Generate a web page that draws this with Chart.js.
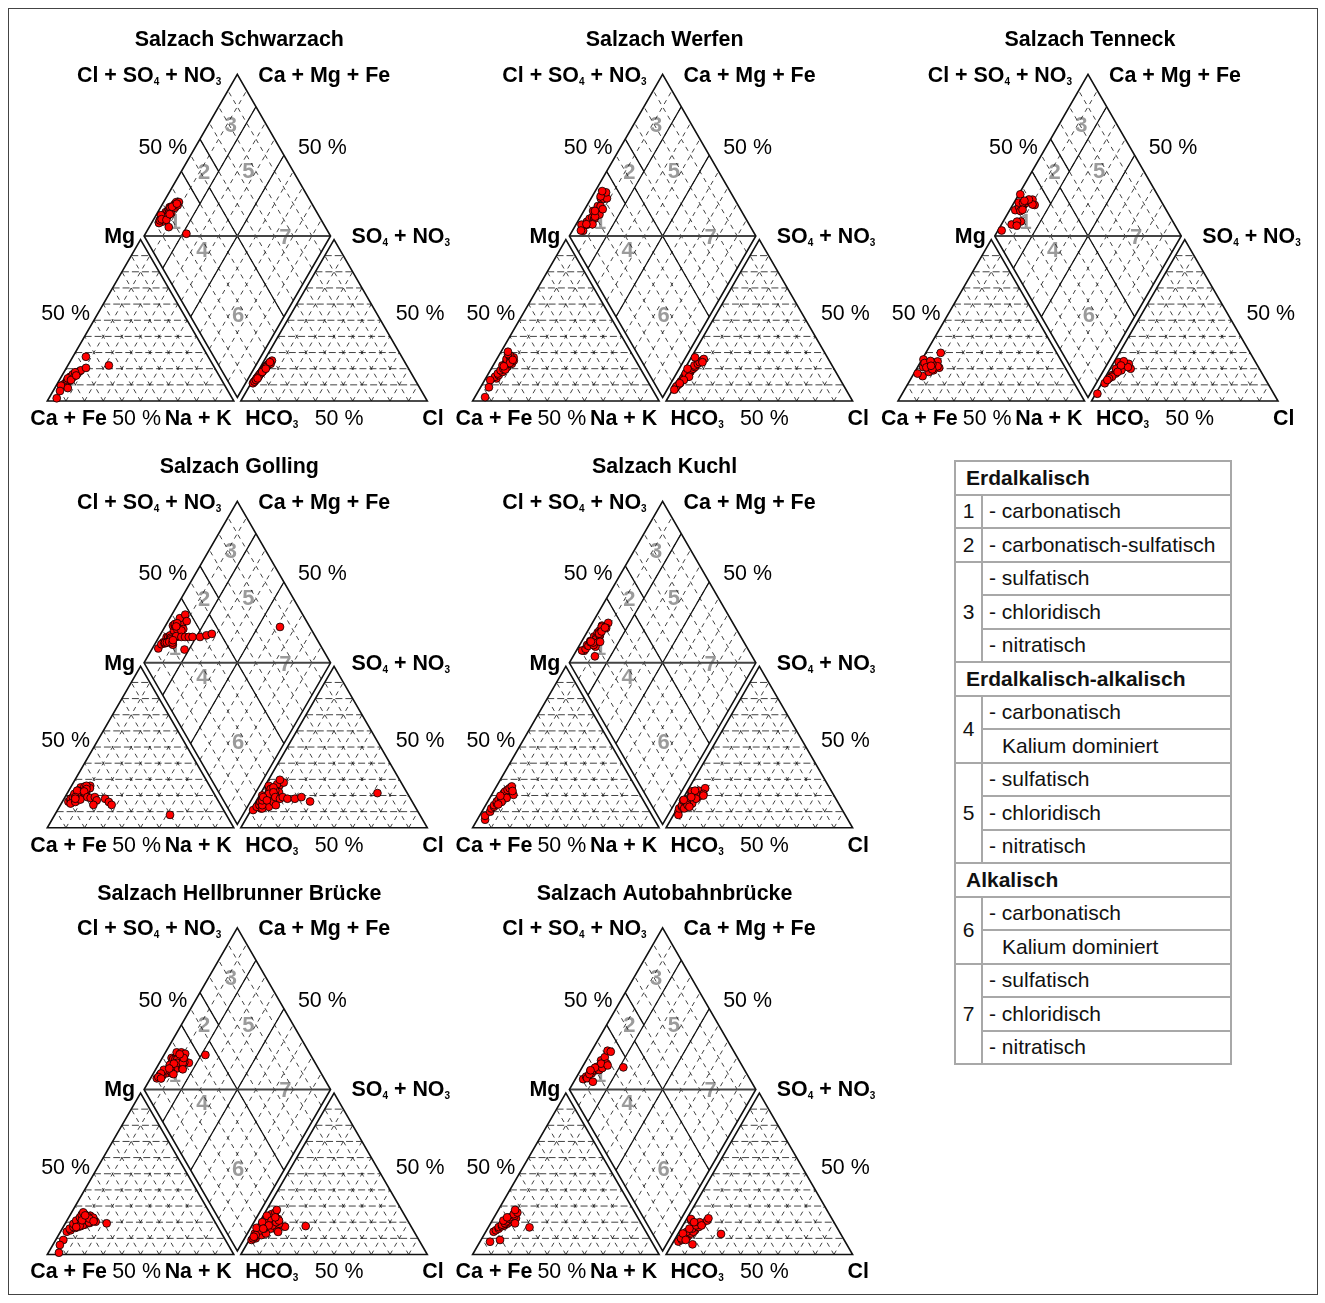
<!DOCTYPE html>
<html lang="de">
<head>
<meta charset="utf-8">
<title>Piper-Diagramme Salzach</title>
<script src="https://cdn.jsdelivr.net/npm/chart.js@4.4.1/dist/chart.umd.min.js"></script>
<style>
  html, body { margin: 0; padding: 0; background: #fff; }
  body { width: 1325px; height: 1303px; position: relative; overflow: hidden;
         font-family: "Liberation Sans", Arial, Helvetica, sans-serif; }
  #frame { position: absolute; left: 8px; top: 8px; width: 1310px; height: 1287px;
           border: 1px solid #444; box-sizing: border-box; }
  canvas.piper { position: absolute; }
  #legend { position: absolute; left: 954px; top: 460px; width: 276px;
            border-collapse: collapse; table-layout: fixed;
            font-family: "Liberation Sans", Arial, sans-serif; font-size: 21px; color: #111; }
  #legend td { border: 2px solid #a8a8a8; height: 33.5px; padding: 0; white-space: nowrap;
               line-height: 20px; box-sizing: border-box; }
  #legend td.head { font-weight: bold; padding-left: 10px; }
  #legend td.num { width: 27px; text-align: center; }
  #legend td.txt { padding-left: 6px; }
  #legend td.txt.cont { padding-left: 19px; }
</style>
</head>
<body>
<div id="frame"></div>
<table id="legend"></table>
<script>
// Sample compositions in equivalent-% : [Mg, Na+K, SO4+NO3, Cl]
// (Ca+Fe = 100 - Mg - Na+K ; HCO3 = 100 - SO4+NO3 - Cl)
const schwarzach = [
  [10,3.5,12,1.2],[11,4,14,1.5],[12,4.5,16,1.8],[12.5,5.5,13,1.4],[13,4.2,17,2],[13.5,5,18,2.2],
  [14,6,15,1.6],[14.5,5.2,19,2.5],[15,4.8,20,2.6],[15,6.5,17,2.1],[15.5,5.6,21,2.8],[16,6.2,18,2.4],
  [16,7,22,3],[16.5,5.4,20,2.9],[17,6.6,23,3.4],[17,7.5,19,2.7],[17.5,6.8,24,3.8],[18,7.8,22,3.3],
  [18.5,8.2,25,4.2],[19,8.5,23,4.5],[14,4,11,1],[13,6.2,16,1.9],[17.8,6,21,3.1],[15.8,7.6,24,3.6],
  [9.5,2.6,14,1.5],[6.2,3.7,12,1.3],[1.7,4.2,13,1.6],[8,7,15,2],
  [27.4,7,18,2.5],[20.5,10.5,14,2],[22,22,20,3.4]
];
const werfen = [
  [14,5.8,8,1],[15,4.5,10,1.5],[16,6,11,2],[17,5,12,1.8],[18,7,13,2.5],[19,5.5,14,2.2],[20,6.5,15,3],
  [21,8,16,2.8],[22,5,17,3.5],[22.5,6.8,18,4],[23,9.5,19,3.8],[24,6,20,4.5],[24.5,7.5,21,5],[25,9.6,22,4.2],
  [26,5.2,23,5.5],[26.5,7,24,6],[27,8.5,25,6.8],[28,6.2,26,7.2],[29,4.5,27,2],[30.5,3.7,24,7.5],
  [23.5,8.2,17,2],[19.5,7.8,15,4.8],[21.5,6,20,1.5],[25.5,8.8,13,3],
  [12.9,3,9,1],[8.5,4.5,7,0.9],[2.4,5.5,11,1.8]
];
const tenneck = [
  [25.7,0.8,24,2.6],[29.8,8,23,6.6],[20.6,11.8,20,11],[15.4,5.5,11,1.6],[22.6,5.9,19.5,5.5],[21,3,16,3],
  [23,4,18,4],[24,6.5,21,6],[22,8,22,7.5],[20,6,17,4.5],[19,9.5,15,3.5],[24.5,9,23,8.5],[21.5,10.5,21,9],
  [23.5,2.5,20,3.2],[18,7.5,14,2.4],[22.8,7,24.6,5],[20.8,4.8,19,6.5],[24.8,5,22,4.8],[19.6,8.6,13,2],
  [21.8,6.8,18,5],[17,2,4.5,0.9]
];
const golling = [
  [16.2,3.2,11,1.1],[17,4,12,4.7],[18,3.5,13,2],[18.5,5,14,3],[19,4.2,15,5],[19.5,6,16,2.5],[20,5,17,4],
  [20.5,7,18,6],[21,5.5,19,3.5],[21.5,6.5,20,7],[22,8,21,5],[22.5,6,22,4],[23,7.5,23,8],[23.5,9,24,6],
  [24,6.8,25,5.5],[24.5,8.5,26,7.5],[25,5.4,27,6],[25.5,7.2,28,9],[26,10,29.7,6.1],[24.5,10.6,22,9.5],
  [17.5,6.5,15,7],[18,8,13,8.5],[20,9.5,16,9.5],[19,7,20,1.5],[22,9.8,18,3],[15,5,12,5.5],[21,4,24,3],
  [23,5,26,2],[20,6,14,4.5],[26,8,24,4],
  [16,7,17,3],[17.5,9,21,4.5],[21,10,23,7],[23,4.5,20,8.5],[19,5.5,25,5],[24,9,19,2.5],[18,6,22,6.5],
  [22.5,8.5,17,5.5],
  [19,12,19,9],[18.5,14,18,12],[19,16,19,13],[17,18,18,16],[14.2,17.6,14,11.8],[18,22,18,20],
  [16,25,19,23],[14.2,27.4,16.3,29],
  [8,61.8,21.5,62.5]
];
const kuchl = [
  [5,4.2,10,1.6],[7.4,3,8,2.6],[10,4.4,12,1],[12,4,13,2],[13,5,14,1.5],[14,4.5,15,3],[15,5.5,16,2.5],
  [16.3,4.8,17,0.6],[17,6,18,4],[17.5,5.2,16,5.5],[18,6.5,19,3.5],[19,5.8,20,4.5],[19.5,7,15,6.5],
  [20,6.2,21,5],[20.5,8,22,2.5],[21,7.2,19,7.5],[21.5,6,23,6],[22,7.8,22.6,2.5],[22.5,6.2,20,8.5],
  [23,8.5,24.5,8.7],[23.5,7,18,7],[24,9,21,9.5],[24.5,7.6,23,4],[25.6,8.2,20,10],[20.4,11.7,12,3.7],
  [18.5,9,16,3],[16,7.5,14,4.5],[14.5,6.5,13,6],[22.8,10,19,4],[19.8,5,17.3,0.8]
];
const hellbrunnerBruecke = [
  [14.1,3.4,9,1.3],[15,5,10,3],[16,4,11,2],[16.5,7,12,5],[17,5.5,13,1],[17.5,9,14,6],[18,6,15,3],
  [18.5,11,16,8],[19,4.5,16.5,0.2],[19.3,7.8,17,4],[19.5,13,18,10],[20,6.5,19,2],[20.3,15.8,17.2,15.1],
  [20.5,9.5,20,7],[21,5,21,3.5],[21.4,12,22,9],[22,7,23,5],[22.5,10,24,6],[23,6,25,4],[23.5,8.5,26,5.5],
  [24,11,27.6,5.5],[24.5,6.2,22,3],[25,7.5,24,2],[26.1,6.2,20,1.5],[21.8,14,15,12],[18.2,10,13,7],
  [22.8,13.2,19,11],[17.8,8.5,21,6],[20.8,11,16,4.5],[23.8,9.5,18,8],
  [19.8,12.5,20,9],[21.2,8,18,6],[22.2,11.5,21,10],[17,7,16,4],[24.2,8.2,23,7],[20.6,14.5,14,13],
  [9,4.1,12,2],[5.9,3.8,10,1.5],[1.1,5.7,11,1.5],
  [19.3,22.2,17.6,26]
];
const autobahnBruecke = [
  [14.1,4.2,8,2.6],[15,5,9,4],[16,6,10,3],[17,5.5,11,6],[17.5,7,12,5],[18,8,13,7],[18.5,6.5,14,4],
  [19,9,15,8],[19.3,7.7,14.1,7.6],[20,10,16,6],[20.5,8,17,9],[21,11,18,7],[22,9,19,10],[22.5,12,20,8],
  [23,8.5,21,11.5],[24,10.5,22.4,11.5],[25,9.5,21,3],[26,11,22,2.3],[27.6,9,20,5],[19.3,13.1,18,10],
  [21,6,13,2.5],[23,7,16,4.5],[7.9,5.4,6.3,11],[9,10.2,9,6],
  [16.8,22.1,12.7,23.1]
];

const stationNames = ['Salzach Schwarzach', 'Salzach Werfen', 'Salzach Tenneck', 'Salzach Golling',
  'Salzach Kuchl', 'Salzach Hellbrunner Brücke', 'Salzach Autobahnbrücke'];
const stationSamples = [schwarzach, werfen, tenneck, golling, kuchl, hellbrunnerBruecke, autobahnBruecke];

// Axis / corner captions ("_n" marks a subscript digit)
const diamondCaptions = ['Cl + SO_4 + NO_3', 'Ca + Mg + Fe', 'Mg', 'SO_4 + NO_3'];
const baseCaptions = ['Ca + Fe', 'Na + K', 'HCO_3', 'Cl'];
const halfTick = '50 %';
const fieldNumbers = ['1', '2', '3', '4', '5', '6', '7'];

// Legend of the water-type fields
const legendGroups = [
  { head: 'Erdalkalisch', items: [
    ['1', ['- carbonatisch']],
    ['2', ['- carbonatisch-sulfatisch']],
    ['3', ['- sulfatisch', '- chloridisch', '- nitratisch']] ] },
  { head: 'Erdalkalisch-alkalisch', items: [
    ['4', ['- carbonatisch', 'Kalium dominiert']],
    ['5', ['- sulfatisch', '- chloridisch', '- nitratisch']] ] },
  { head: 'Alkalisch', items: [
    ['6', ['- carbonatisch', 'Kalium dominiert']],
    ['7', ['- sulfatisch', '- chloridisch', '- nitratisch']] ] }
];

// ---------------- geometry of the Piper plot (triangle side = 1) ----------------
const K = 186.5;                 // pixels per unit side
const G = 7 / K;                 // gap between the two triangles
const YD = 3.5 / K;              // lift of the diamond's lower vertex
const H = Math.sqrt(3) / 2;
const geom = {
  cat: (mg, nak) => [nak + mg / 2, mg * H],
  an: (so4, cl) => [1 + G + cl + so4 / 2, so4 * H],
  dia: (c, a) => [1 + G / 2 + (a - c) / 2, YD + (a + c) * H]
};
// field number positions in the diamond as [cations Ca+Mg, anions Cl+SO4]
const fieldPos = [[0.88, 0.21], [0.877, 0.52], [0.88, 0.81], [0.645, 0.27], [0.64, 0.76], [0.25, 0.26], [0.24, 0.755]];

const FONT = '"Liberation Sans", Arial, Helvetica, sans-serif';
const FS = 21.4;

function richText(ctx, str, x, y, align, bold) {
  const parts = str.split(/_(\d)/);
  const big = (bold ? 'bold ' : '') + FS + 'px ' + FONT;
  const small = (bold ? 'bold ' : '') + '10px ' + FONT;
  let w = 0;
  parts.forEach((t, i) => { ctx.font = i % 2 ? small : big; w += ctx.measureText(t).width; });
  let sx = align === 'right' ? x - w : align === 'center' ? x - w / 2 : x;
  ctx.textAlign = 'left';
  ctx.textBaseline = 'middle';
  parts.forEach((t, i) => {
    ctx.font = i % 2 ? small : big;
    ctx.fillText(t, sx, i % 2 ? y + 7 : y + 1);
    sx += ctx.measureText(t).width;
  });
}

const piperFrame = {
  id: 'piperFrame',
  beforeDatasetsDraw(chart) {
    const ctx = chart.ctx, xs = chart.scales.x, ys = chart.scales.y;
    const P = p => [xs.getPixelForValue(p[0]), ys.getPixelForValue(p[1])];
    const seg = (p, q) => { const a = P(p), b = P(q); ctx.moveTo(a[0], a[1]); ctx.lineTo(b[0], b[1]); };
    const poly = pts => { const f = P(pts[0]); ctx.moveTo(f[0], f[1]); pts.slice(1).forEach(p => { const q = P(p); ctx.lineTo(q[0], q[1]); }); ctx.closePath(); };
    ctx.save();

    // field numbers (under the samples)
    ctx.fillStyle = '#9b9b9b';
    ctx.font = 'bold 22px ' + FONT;
    ctx.textAlign = 'center';
    ctx.textBaseline = 'middle';
    fieldNumbers.forEach((n, i) => { const p = P(geom.dia(fieldPos[i][0], fieldPos[i][1])); ctx.fillText(n, p[0], p[1] + 1); });

    // dashed 10 % grid
    ctx.strokeStyle = '#111';
    ctx.lineWidth = 0.8;
    ctx.setLineDash([7, 3]);
    ctx.beginPath();
    for (let i = 1; i < 10; i++) {
      const t = i / 10;
      seg(geom.cat(t, 0), geom.cat(t, 1 - t));
      seg(geom.an(t, 0), geom.an(t, 1 - t));
    }
    ctx.stroke();
    ctx.setLineDash([4.5, 4.5]);
    ctx.beginPath();
    for (let i = 1; i < 10; i++) {
      const t = i / 10;
      seg(geom.cat(0, t), geom.cat(1 - t, t));
      seg(geom.cat(0, 1 - t), geom.cat(1 - t, 0));
      seg(geom.an(0, t), geom.an(1 - t, t));
      seg(geom.an(0, 1 - t), geom.an(1 - t, 0));
      seg(geom.dia(t, 0), geom.dia(t, 1));
      seg(geom.dia(0, t), geom.dia(1, t));
    }
    ctx.stroke();
    ctx.setLineDash([]);

    // field boundaries in the diamond
    ctx.strokeStyle = '#111';
    ctx.lineWidth = 1.3;
    ctx.beginPath();
    seg(geom.dia(0.8, 0), geom.dia(0.8, 1));
    seg(geom.dia(0.5, 0), geom.dia(0.5, 1));
    seg(geom.dia(0.8, 0.5), geom.dia(0, 0.5));
    seg(geom.dia(1, 0.4), geom.dia(0.8, 0.4));
    seg(geom.dia(1, 0.6), geom.dia(0.8, 0.6));
    ctx.stroke();
    ctx.strokeStyle = '#444';
    ctx.lineWidth = 2;
    ctx.beginPath();
    seg(geom.dia(1, 0), geom.dia(0, 1));
    ctx.stroke();

    // outlines
    ctx.strokeStyle = '#111';
    ctx.lineWidth = 1.6;
    ctx.beginPath();
    poly([[0, 0], [1, 0], [0.5, H]]);
    poly([[1 + G, 0], [2 + G, 0], [1.5 + G, H]]);
    poly([geom.dia(0, 0), geom.dia(0, 1), geom.dia(1, 1), geom.dia(1, 0)]);
    ctx.stroke();
    ctx.restore();
  },
  afterDraw(chart, args, opts) {
    const ctx = chart.ctx, xs = chart.scales.x, ys = chart.scales.y;
    const P = p => [xs.getPixelForValue(p[0]), ys.getPixelForValue(p[1])];
    const mid = (a, b) => [(a[0] + b[0]) / 2, (a[1] + b[1]) / 2];
    const T = P(geom.dia(1, 1)), L = P(geom.dia(1, 0)), R = P(geom.dia(0, 1));
    const A1 = P([0, 0]), B1 = P([1, 0]), C1 = P([0.5, H]);
    const A2 = P([1 + G, 0]), B2 = P([2 + G, 0]), C2 = P([1.5 + G, H]);
    ctx.save();
    ctx.fillStyle = '#000';
    richText(ctx, opts.title, T[0] + 2, T[1] - 35, 'center', true);
    richText(ctx, diamondCaptions[0], T[0] - 16, T[1] + 0.5, 'right', true);
    richText(ctx, diamondCaptions[1], T[0] + 21, T[1] + 0.5, 'left', true);
    richText(ctx, diamondCaptions[2], L[0] - 9, L[1], 'right', true);
    richText(ctx, diamondCaptions[3], R[0] + 21, R[1], 'left', true);
    let m = mid(L, T);
    richText(ctx, halfTick, m[0] - 3.5, m[1] - 8.5, 'right', false);
    m = mid(T, R);
    richText(ctx, halfTick, m[0] + 14, m[1] - 8.5, 'left', false);
    m = mid(A1, C1);
    richText(ctx, halfTick, m[0] - 4, m[1] - 7, 'right', false);
    m = mid(B2, C2);
    richText(ctx, halfTick, m[0] + 15, m[1] - 7, 'left', false);
    const by = A1[1] + 17;
    richText(ctx, baseCaptions[0], A1[0] - 17, by, 'left', true);
    richText(ctx, halfTick, (A1[0] + B1[0]) / 2 - 4, by, 'center', false);
    richText(ctx, baseCaptions[1], B1[0] - 2, by, 'right', true);
    richText(ctx, baseCaptions[2], A2[0] + 4.5, by, 'left', true);
    richText(ctx, halfTick, (A2[0] + B2[0]) / 2 + 5, by, 'center', false);
    richText(ctx, baseCaptions[3], B2[0] - 5, by, 'left', true);
    ctx.restore();
  }
};

// panel placement: lower-left corner of the cation triangle on the page
const COL_X = [47.3, 472.6, 898];
const ROW_Y = [401, 827.8, 1254.5];
const panelCells = [[0, 0], [0, 1], [0, 2], [1, 0], [1, 1], [2, 0], [2, 1]];
const CW = 460, CH = 430, OX = 40, OY = 400;

function pointStyle(label, data) {
  return { label, data, showLine: false, pointRadius: 3.9, pointHoverRadius: 3.9,
           pointBackgroundColor: '#ff0000', pointBorderColor: '#000', pointBorderWidth: 0.8,
           backgroundColor: '#ff0000', borderColor: '#000', clip: false };
}

stationNames.forEach((name, idx) => {
  const [row, col] = panelCells[idx];
  const X0 = COL_X[col], Y0 = ROW_Y[row];
  const left = Math.round(X0 - OX), top = Math.round(Y0 - OY);
  const ox = X0 - left, oy = Y0 - top;
  const cv = document.createElement('canvas');
  cv.className = 'piper';
  cv.width = CW; cv.height = CH;
  cv.style.left = left + 'px'; cv.style.top = top + 'px';
  cv.style.width = CW + 'px'; cv.style.height = CH + 'px';
  document.body.appendChild(cv);

  const s = stationSamples[idx];
  const toXY = p => ({ x: p[0], y: p[1] });
  const cations = s.map(r => toXY(geom.cat(r[0] / 100, r[1] / 100)));
  const anions = s.map(r => toXY(geom.an(r[2] / 100, r[3] / 100)));
  const diamond = s.map(r => toXY(geom.dia(1 - r[1] / 100, (r[2] + r[3]) / 100)));

  new Chart(cv, {
    type: 'scatter',
    data: { datasets: [pointStyle('Kationen', cations), pointStyle('Anionen', anions), pointStyle('Raute', diamond)] },
    options: {
      responsive: false, animation: false, devicePixelRatio: 1, events: [],
      layout: { padding: 0, autoPadding: false },
      plugins: { legend: { display: false }, tooltip: { enabled: false }, piperFrame: { title: name } },
      scales: {
        x: { type: 'linear', display: false, min: -ox / K, max: (CW - ox) / K },
        y: { type: 'linear', display: false, min: -(CH - oy) / K, max: oy / K }
      }
    },
    plugins: [piperFrame]
  });
});

// legend table
const tbl = document.getElementById('legend');
legendGroups.forEach(g => {
  const hr = tbl.insertRow();
  const hc = hr.insertCell();
  hc.colSpan = 2; hc.className = 'head'; hc.textContent = g.head;
  g.items.forEach(([num, lines]) => {
    lines.forEach((txt, i) => {
      const tr = tbl.insertRow();
      if (i === 0) {
        const nc = tr.insertCell();
        nc.className = 'num'; nc.rowSpan = lines.length; nc.textContent = num;
      }
      const tc = tr.insertCell();
      tc.className = txt.startsWith('-') ? 'txt' : 'txt cont';
      tc.textContent = txt;
    });
  });
});
// fixed column widths
const cg = document.createElement('colgroup');
cg.innerHTML = '<col style="width:27px"><col style="width:249px">';
tbl.insertBefore(cg, tbl.firstChild);
</script>
</body>
</html>
